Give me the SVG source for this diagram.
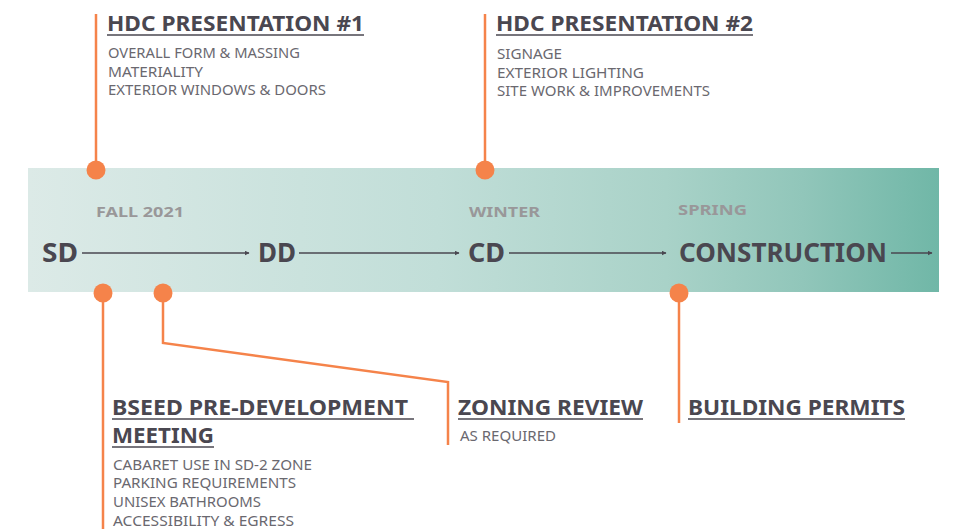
<svg xmlns="http://www.w3.org/2000/svg" width="953" height="529" viewBox="0 0 953 529">
<defs>
<linearGradient id="band" x1="0" y1="0" x2="1" y2="0">
<stop offset="0" stop-color="#dceae7"/>
<stop offset="0.45" stop-color="#c1ded8"/>
<stop offset="0.7" stop-color="#a9d2c8"/>
<stop offset="0.85" stop-color="#91c6ba"/>
<stop offset="1" stop-color="#70b7a7"/>
</linearGradient>
<marker id="ah" viewBox="0 0 10 10" refX="9" refY="5" markerWidth="5" markerHeight="5" orient="auto" markerUnits="userSpaceOnUse">
<path d="M0,0 L10,5 L0,10 z" fill="#4a4750"/>
</marker>
<style>
.h{font-family:"Noto Sans","Liberation Sans",sans-serif;font-weight:700;font-size:21px;fill:#4a4750}
.ul{stroke:#4a4750;stroke-width:1.5}
.it{font-family:"Noto Sans","Liberation Sans",sans-serif;font-size:14px;fill:#6a686f}
.season{font-family:"Noto Sans","Liberation Sans",sans-serif;font-weight:700;font-size:15px;fill:#999799}
.ph{font-family:"Noto Sans","Liberation Sans",sans-serif;font-weight:700;font-size:26px;fill:#4a4750}
.arr{stroke:#4a4750;stroke-width:1.3;fill:none;marker-end:url(#ah)}
.lead{stroke:#f5834a;stroke-width:2.5;fill:none}
.dot{fill:#f5834a}
</style>
</defs>
<rect x="28" y="168" width="911" height="124" fill="url(#band)"/>

<g id="phases">
<text class="ph" x="42" y="262" textLength="36" lengthAdjust="spacingAndGlyphs">SD</text>
<text class="ph" x="258" y="262" textLength="38" lengthAdjust="spacingAndGlyphs">DD</text>
<text class="ph" x="468" y="262" textLength="37" lengthAdjust="spacingAndGlyphs">CD</text>
<text class="ph" x="679" y="262" textLength="208" lengthAdjust="spacingAndGlyphs">CONSTRUCTION</text>
<text class="season" x="96" y="217" textLength="88" lengthAdjust="spacingAndGlyphs">FALL 2021</text>
<text class="season" x="469" y="217" textLength="71" lengthAdjust="spacingAndGlyphs">WINTER</text>
<text class="season" x="678" y="215" textLength="69" lengthAdjust="spacingAndGlyphs">SPRING</text>
</g>

<g id="connectors">
<line class="arr" x1="82" y1="253" x2="249" y2="253"/>
<line class="arr" x1="299" y1="253" x2="459" y2="253"/>
<line class="arr" x1="509" y1="253" x2="666" y2="253"/>
<line class="arr" x1="891" y1="253" x2="932" y2="253"/>
<polyline class="lead" points="96,170 96,14"/>
<polyline class="lead" points="485,170 485,14"/>
<polyline class="lead" points="103,293 103,529"/>
<polyline class="lead" points="163,293 163,343 448,382 448,445"/>
<polyline class="lead" points="679,293 679,423"/>
</g>

<g id="hdc1">
<circle class="dot" cx="96" cy="170" r="9.5"/>
<text class="h" x="107" y="31" textLength="257" lengthAdjust="spacingAndGlyphs">HDC PRESENTATION #1</text>
<line class="ul" x1="107" y1="35" x2="364" y2="35"/>
<text class="it" x="108" y="58" textLength="192" lengthAdjust="spacingAndGlyphs">OVERALL FORM &amp; MASSING</text>
<text class="it" x="108" y="77" textLength="95" lengthAdjust="spacingAndGlyphs">MATERIALITY</text>
<text class="it" x="108" y="95" textLength="218" lengthAdjust="spacingAndGlyphs">EXTERIOR WINDOWS &amp; DOORS</text>
</g>

<g id="hdc2">
<circle class="dot" cx="485" cy="170" r="9.5"/>
<text class="h" x="496" y="31" textLength="257" lengthAdjust="spacingAndGlyphs">HDC PRESENTATION #2</text>
<line class="ul" x1="496" y1="35" x2="753" y2="35"/>
<text class="it" x="497" y="59" textLength="65" lengthAdjust="spacingAndGlyphs">SIGNAGE</text>
<text class="it" x="497" y="78" textLength="147" lengthAdjust="spacingAndGlyphs">EXTERIOR LIGHTING</text>
<text class="it" x="497" y="96" textLength="213" lengthAdjust="spacingAndGlyphs">SITE WORK &amp; IMPROVEMENTS</text>
</g>

<g id="bseed">
<circle class="dot" cx="103" cy="293" r="9.5"/>
<text class="h" x="112" y="415" textLength="296" lengthAdjust="spacingAndGlyphs">BSEED PRE-DEVELOPMENT</text>
<line class="ul" x1="112" y1="419" x2="414" y2="419"/>
<text class="h" x="112" y="443" textLength="102" lengthAdjust="spacingAndGlyphs">MEETING</text>
<line class="ul" x1="112" y1="447" x2="214" y2="447"/>
<text class="it" x="113" y="470" textLength="199" lengthAdjust="spacingAndGlyphs">CABARET USE IN SD-2 ZONE</text>
<text class="it" x="113" y="488" textLength="183" lengthAdjust="spacingAndGlyphs">PARKING REQUIREMENTS</text>
<text class="it" x="113" y="507" textLength="148" lengthAdjust="spacingAndGlyphs">UNISEX BATHROOMS</text>
<text class="it" x="113" y="526" textLength="181" lengthAdjust="spacingAndGlyphs">ACCESSIBILITY &amp; EGRESS</text>
</g>

<g id="zoning">
<circle class="dot" cx="163" cy="293" r="9.5"/>
<text class="h" x="458" y="415" textLength="185" lengthAdjust="spacingAndGlyphs">ZONING REVIEW</text>
<line class="ul" x1="458" y1="419" x2="643" y2="419"/>
<text class="it" x="460" y="441" textLength="96" lengthAdjust="spacingAndGlyphs">AS REQUIRED</text>
</g>

<g id="permits">
<circle class="dot" cx="679" cy="293" r="9.5"/>
<text class="h" x="688" y="415" textLength="217" lengthAdjust="spacingAndGlyphs">BUILDING PERMITS</text>
<line class="ul" x1="688" y1="419" x2="905" y2="419"/>
</g>
</svg>
